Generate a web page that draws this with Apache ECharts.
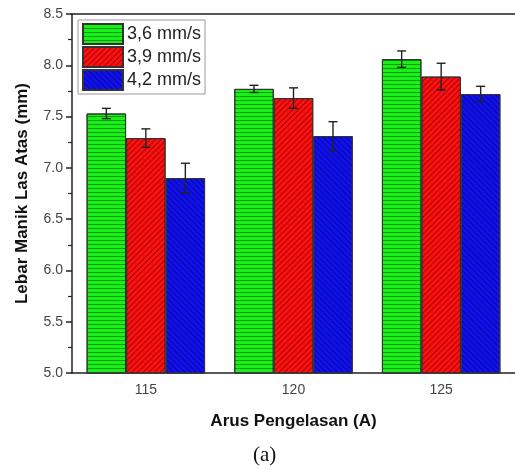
<!DOCTYPE html>
<html>
<head>
<meta charset="utf-8">
<script src="https://cdn.jsdelivr.net/npm/echarts@6/dist/echarts.min.js"></script>
<style>
  html, body { margin: 0; padding: 0; background: #fff; }
  #chart { width: 515px; height: 470px; }
</style>
</head>
<body>
<div id="chart"></div>
<script>
// data
const categories = ['115', '120', '125'];
const seriesNames = ['3,6 mm/s', '3,9 mm/s', '4,2 mm/s'];
const v36 = [7.53, 7.77, 8.06];
const v39 = [7.29, 7.68, 7.89];
const v42 = [6.90, 7.31, 7.72];
const e36 = [0.05, 0.035, 0.08];
const e39 = [0.09, 0.10, 0.13];
const e42 = [0.145, 0.14, 0.075];
const yTicks = [5.0, 5.5, 6.0, 6.5, 7.0, 7.5, 8.0, 8.5];

const chart = echarts.init(document.getElementById('chart'));

const BAR_W = 39.5;
const fills = ['#19f019', '#ff1010', '#1010f0'];
// green: horizontal hatch, red: "/" hatch, blue: "\" hatch
const decals = [
  { symbol: 'rect', dashArrayX: [1, 0], dashArrayY: [1, 3], rotation: 0, color: 'rgba(0,70,0,0.5)' },
  { symbol: 'rect', dashArrayX: [1, 0], dashArrayY: [1, 2.2], rotation: -Math.PI / 4, color: 'rgba(60,0,0,0.5)' },
  { symbol: 'rect', dashArrayX: [1, 0], dashArrayY: [1, 2.2], rotation: Math.PI / 4, color: 'rgba(0,0,60,0.5)' }
];
const values = [v36, v39, v42];
const errs = [e36, e39, e42];

const barSeries = values.map((vals, i) => ({
  name: seriesNames[i],
  type: 'bar',
  data: vals,
  barWidth: BAR_W,
  barGap: '0%',
  itemStyle: { color: fills[i], borderColor: '#333', borderWidth: 1, decal: decals[i] },
  emphasis: { disabled: true },
  z: 2
}));

const errSeries = values.map((vals, i) => ({
  type: 'custom',
  data: vals.map((v, k) => [k, v - errs[i][k], v + errs[i][k]]),
  encode: { x: 0, y: [1, 2] },
  z: 5,
  silent: true,
  renderItem: function (params, api) {
    const off = (i - 1) * BAR_W;
    const lo = api.coord([api.value(0), api.value(1)]);
    const hi = api.coord([api.value(0), api.value(2)]);
    const x = lo[0] + off;
    const cap = 4.5;
    const st = { stroke: '#222', lineWidth: 1.4 };
    return {
      type: 'group',
      children: [
        { type: 'line', shape: { x1: x, y1: lo[1], x2: x, y2: hi[1] }, style: st },
        { type: 'line', shape: { x1: x - cap, y1: lo[1], x2: x + cap, y2: lo[1] }, style: st },
        { type: 'line', shape: { x1: x - cap, y1: hi[1], x2: x + cap, y2: hi[1] }, style: st }
      ]
    };
  }
}));

chart.setOption({
  animation: false,
  textStyle: { fontFamily: 'Liberation Sans, Arial, sans-serif' },
  grid: { left: 72, top: 14, width: 446, bottom: 97 },
  legend: {
    data: seriesNames,
    orient: 'vertical',
    left: 78,
    top: 20,
    icon: 'rect',
    itemWidth: 40,
    itemHeight: 20,
    itemGap: 1,
    padding: [3, 4, 3, 4],
    borderColor: '#999',
    borderWidth: 1,
    backgroundColor: '#fff',
    textStyle: { fontSize: 18, lineHeight: 20, color: '#222', padding: [0, 0, 0, -1] }
  },
  xAxis: [{
    type: 'category',
    data: categories,
    name: 'Arus Pengelasan (A)',
    nameLocation: 'middle',
    nameGap: 40,
    nameTextStyle: { fontSize: 17, fontWeight: 'bold', color: '#111' },
    axisLine: { lineStyle: { color: '#222', width: 1.5 } },
    axisTick: { alignWithLabel: true, length: 5, lineStyle: { color: '#222', width: 1.5 } },
    axisLabel: { fontSize: 14, color: '#444', margin: 10 }
  }, {
    type: 'category',
    data: categories,
    position: 'top',
    axisLine: { lineStyle: { color: '#222', width: 1.5 } },
    axisTick: { show: false },
    axisLabel: { show: false }
  }],
  yAxis: {
    type: 'value',
    min: yTicks[0],
    max: yTicks[yTicks.length - 1],
    interval: 0.5,
    name: 'Lebar Manik Las Atas (mm)',
    nameLocation: 'middle',
    nameGap: 41,
    nameTextStyle: { fontSize: 17, fontWeight: 'bold', color: '#111' },
    axisLine: { show: true, lineStyle: { color: '#222', width: 1.5 } },
    axisTick: { show: true, length: 6, lineStyle: { color: '#222', width: 1.5 } },
    minorTick: { show: true, splitNumber: 2, length: 4, lineStyle: { color: '#222', width: 1.2 } },
    splitLine: { show: false },
    axisLabel: { fontSize: 14, color: '#444', margin: 9, formatter: v => v.toFixed(1) }
  },
  graphic: [{
    type: 'text',
    left: 268 - 15,
    top: 445,
    style: { text: '(a)', font: '21px "Liberation Serif", serif', fill: '#111' }
  }],
  series: barSeries.concat(errSeries)
});
</script>
</body>
</html>
